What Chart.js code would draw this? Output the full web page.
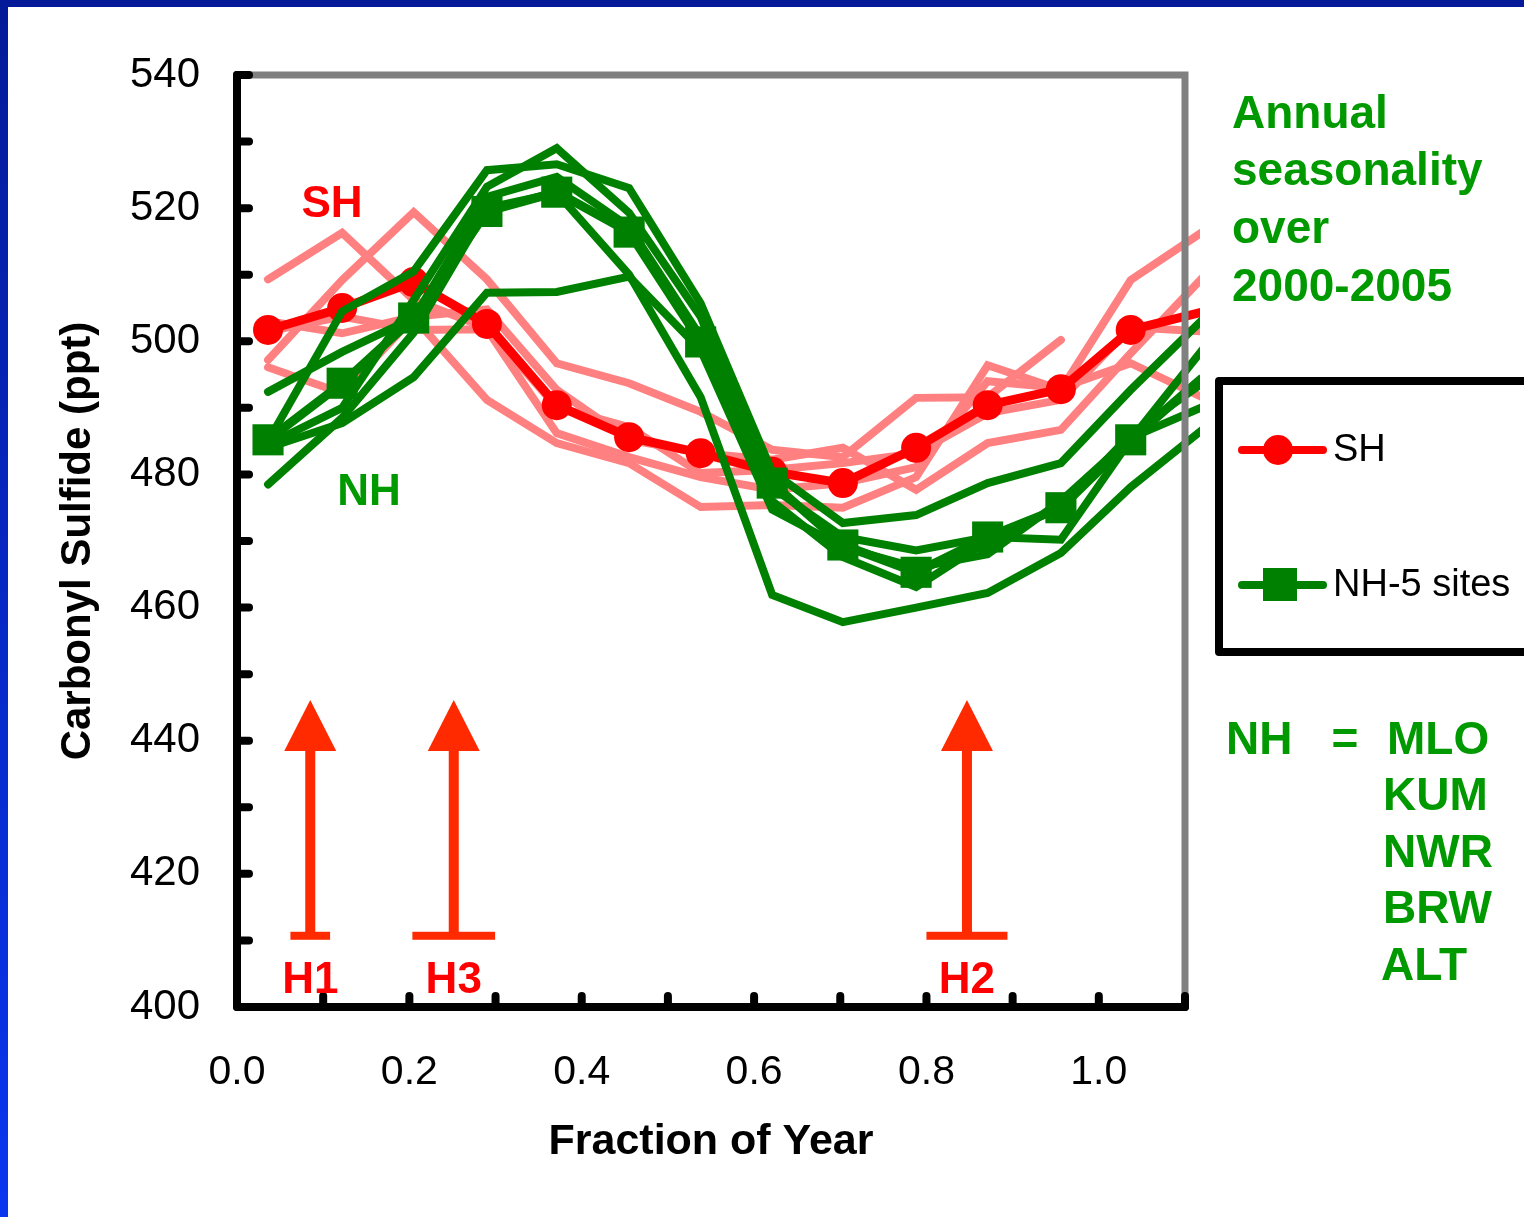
<!DOCTYPE html>
<html>
<head>
<meta charset="utf-8">
<script src="https://cdn.jsdelivr.net/npm/chart.js@4.4.1/dist/chart.umd.min.js"></script>
<style>
  html, body { margin: 0; padding: 0; background: #ffffff; }
  #wrap { position: relative; width: 1524px; height: 1217px; overflow: hidden; background: #ffffff; }
  #leftBar { position: absolute; left: 0; top: 0; width: 8px; height: 1217px; background: linear-gradient(#041a98, #0a36f0); }
  #topBar { position: absolute; left: 0; top: 0; width: 1524px; height: 7px; background: #041a98; }
  #c { position: absolute; left: 0; top: 0; }
</style>
</head>
<body>
<div id="wrap">
  <div id="leftBar"></div>
  <div id="topBar"></div>
  <canvas id="c" width="1524" height="1217"></canvas>
</div>
<script>
// ---------------- DATA ----------------
// x positions (fraction of year) of the monthly points
const xs = [0.036, 0.122, 0.205, 0.290, 0.371, 0.455, 0.538, 0.621, 0.703, 0.788, 0.871, 0.956, 1.037, 1.120];

// Southern Hemisphere mean (red, circles)
const shMean = [501.7, 505.0, 508.9, 502.6, 490.4, 485.6, 483.2, 480.4, 478.7, 484.0, 490.4, 492.8, 501.7, 504.4];
// Northern Hemisphere 5-site mean (green, squares)
const nhMean = [485.2, 493.7, 503.5, 519.5, 522.4, 516.4, 499.9, 478.7, 469.4, 465.3, 470.6, 475.0, 485.2, 494.5];

// Individual SH curves (light red)
const shLine1 = [509.3, 516.3, 506.2, 502.0, 490.1, 487.1, 480.2, 480.7, 481.7, 483.2, 489.2, 491.2, 502.1, 501.5];
const shLine2 = [497.2, 509.2, 519.4, 509.3, 496.7, 493.7, 489.4, 483.7, 482.6, 491.5, 491.6, 500.2];
const shLine3 = [503.0, 501.2, 503.7, 504.8, 492.7, 485.2, 483.2, 482.2, 484.0, 477.7, 484.7, 486.7, 498.2, 509.5];
const shLine4 = [501.5, 503.7, 501.7, 501.8, 486.2, 482.6, 479.6, 477.7, 478.7, 481.1, 494.0, 493.0, 496.7, 491.6];
const shLine5 = [496.1, 492.2, 503.6, 491.2, 484.7, 481.7, 475.1, 475.4, 475.0, 479.6, 496.4, 492.7, 509.2, 516.4];

// Individual NH site curves (green)
const nhLineA = [485.0, 504.5, 510.5, 525.7, 526.6, 523.0, 505.7, 480.4, 472.7, 473.9, 478.7, 481.7, 492.7, 503.2];
const nhLineB = [484.5, 490.0, 506.2, 523.2, 529.0, 519.3, 503.7, 478.0, 470.6, 468.6, 470.6, 470.2, 485.2, 498.7];
const nhLineC = [492.4, 498.4, 503.5, 521.7, 524.7, 517.2, 500.7, 476.0, 467.6, 463.1, 470.0, 475.1, 486.0, 493.7];
const nhLineD = [484.0, 487.7, 494.6, 507.3, 507.4, 509.7, 498.7, 474.7, 469.1, 466.0, 468.0, 476.0, 485.5, 490.1];
const nhLineE = [478.5, 488.5, 501.3, 520.0, 522.3, 510.0, 491.6, 461.9, 457.8, 460.0, 462.2, 468.2, 478.1, 486.7];

// Axis ticks
const yTickValues = [400, 410, 420, 430, 440, 450, 460, 470, 480, 490, 500, 510, 520, 530, 540];
const xTickValues = [0.1, 0.2, 0.3, 0.4, 0.5, 0.6, 0.7, 0.8, 0.9, 1.0, 1.1];

// Annotations: hemisphere arrows
const arrowNames = ['H1', 'H3', 'H2'];
const arrowX = [0.085, 0.2515, 0.847];
const arrowBarHalf = [0.023, 0.048, 0.047];
const arrowFrom = 410.7;
const arrowTo = 446.1;

const legendLabels = ['SH', 'NH-5 sites'];
const siteList = ['MLO', 'KUM', 'NWR', 'BRW', 'ALT'];
const noteLines = ['Annual', 'seasonality', 'over', '2000-2005'];

// ---------------- CHART ----------------
const FONT = "'Liberation Sans', Arial, sans-serif";
Chart.defaults.font.family = FONT;

function pts(vals) { return vals.map((v, i) => ({ x: xs[i], y: v })); }

const PINK = '#ff8080', RED = '#ff0000', GREEN = '#008000', GREEN_TXT = '#009900', ARROW = '#ff2a00';
const CLIP = { left: 40, top: 40, right: 15, bottom: 40 };
const LAST = xs.length - 1;

function thin(vals, color, order) {
  return { label: '', data: pts(vals), borderColor: color, backgroundColor: color, borderWidth: 8,
    pointRadius: 0, order: order, clip: CLIP, borderCapStyle: 'round', borderJoinStyle: 'miter', tension: 0 };
}

const datasets = [
  thin(shLine1, PINK, 4), thin(shLine2, PINK, 4), thin(shLine3, PINK, 4), thin(shLine4, PINK, 4), thin(shLine5, PINK, 4),
  { label: legendLabels[0], data: pts(shMean), borderColor: RED, backgroundColor: RED, borderWidth: 9,
    pointRadius: c => (c.dataIndex === LAST ? 0 : 15), pointStyle: 'circle', pointBackgroundColor: RED, pointBorderWidth: 0,
    order: 3, clip: CLIP, borderJoinStyle: 'miter' },
  thin(nhLineA, GREEN, 2), thin(nhLineB, GREEN, 2), thin(nhLineC, GREEN, 2), thin(nhLineD, GREEN, 2), thin(nhLineE, GREEN, 2),
  { label: legendLabels[1], data: pts(nhMean), borderColor: GREEN, backgroundColor: GREEN, borderWidth: 9,
    pointRadius: c => (c.dataIndex === LAST ? 0 : 22), pointStyle: 'rect', pointBackgroundColor: GREEN, pointBorderWidth: 0,
    order: 1, clip: CLIP, borderJoinStyle: 'miter' }
];

const decor = {
  id: 'decor',
  afterDatasetsDraw(chart) {
    const ctx = chart.ctx;
    const xS = chart.scales.x, yS = chart.scales.y;
    const L = xS.getPixelForValue(0), R = xS.getPixelForValue(1.1);
    const T = yS.getPixelForValue(540), B = yS.getPixelForValue(400);
    ctx.save();
    // gray top/right frame
    ctx.strokeStyle = '#808080'; ctx.lineWidth = 7; ctx.lineCap = 'butt';
    ctx.beginPath(); ctx.moveTo(L, T); ctx.lineTo(R, T); ctx.lineTo(R, B); ctx.stroke();
    // black axes
    ctx.strokeStyle = '#000'; ctx.lineWidth = 8; ctx.lineCap = 'round'; ctx.lineJoin = 'round';
    ctx.beginPath(); ctx.moveTo(L, T); ctx.lineTo(L, B); ctx.lineTo(R, B); ctx.stroke();
    // ticks
    yTickValues.forEach(v => {
      const y = yS.getPixelForValue(v);
      ctx.beginPath(); ctx.moveTo(L, y); ctx.lineTo(L + 12, y); ctx.stroke();
    });
    xTickValues.forEach(v => {
      const x = xS.getPixelForValue(v);
      ctx.beginPath(); ctx.moveTo(x, B); ctx.lineTo(x, B - 11); ctx.stroke();
    });
    // arrows
    const yBase = yS.getPixelForValue(arrowFrom), yTip = yS.getPixelForValue(arrowTo);
    arrowNames.forEach((name, i) => {
      const x = xS.getPixelForValue(arrowX[i]);
      const x0 = xS.getPixelForValue(arrowX[i] - arrowBarHalf[i]);
      const x1 = xS.getPixelForValue(arrowX[i] + arrowBarHalf[i]);
      ctx.fillStyle = ARROW;
      ctx.fillRect(x - 5, yTip + 45, 10, yBase - (yTip + 45));
      ctx.fillRect(x0, yBase - 4, x1 - x0, 8);
      ctx.beginPath(); ctx.moveTo(x, yTip); ctx.lineTo(x + 26, yTip + 51); ctx.lineTo(x - 26, yTip + 51); ctx.closePath(); ctx.fill();
      ctx.fillStyle = RED; ctx.font = 'bold 44px ' + FONT; ctx.textAlign = 'center'; ctx.textBaseline = 'alphabetic';
      ctx.fillText(name, x, 993);
    });
    // hemisphere labels
    ctx.font = 'bold 44px ' + FONT; ctx.textAlign = 'center'; ctx.textBaseline = 'middle';
    ctx.fillStyle = RED; ctx.fillText('SH', 332, 205);
    ctx.fillStyle = GREEN_TXT; ctx.fillText('NH', 369, 493);
    ctx.restore();
  },
  afterDraw(chart) {
    const ctx = chart.ctx;
    ctx.save();
    // note text
    ctx.fillStyle = GREEN_TXT; ctx.font = 'bold 46px ' + FONT; ctx.textAlign = 'left'; ctx.textBaseline = 'alphabetic';
    noteLines.forEach((t, i) => ctx.fillText(t, 1232, 127.5 + i * 57.7));
    // site list
    ctx.fillText('NH', 1226, 753.5);
    ctx.textAlign = 'center'; ctx.fillText('=', 1345, 753.5);
    ctx.textAlign = 'left';
    const sx = [1387, 1383, 1383, 1383, 1381];
    siteList.forEach((s, i) => ctx.fillText(s, sx[i], 753.5 + i * 56.5));
    // legend
    ctx.strokeStyle = '#000'; ctx.lineWidth = 8; ctx.lineJoin = 'round';
    ctx.strokeRect(1219, 381, 330, 271);
    const entries = [
      { ds: chart.data.datasets[5], y: 450 },
      { ds: chart.data.datasets[11], y: 585 }
    ];
    entries.forEach(e => {
      ctx.strokeStyle = e.ds.borderColor; ctx.lineWidth = 8; ctx.lineCap = 'round';
      ctx.beginPath(); ctx.moveTo(1242, e.y); ctx.lineTo(1323, e.y); ctx.stroke();
      ctx.fillStyle = e.ds.borderColor;
      if (e.ds.pointStyle === 'circle') { ctx.beginPath(); ctx.arc(1278, e.y, 15, 0, Math.PI * 2); ctx.fill(); }
      else { ctx.fillRect(1263, e.y - 17, 34, 33); }
      ctx.fillStyle = '#000'; ctx.font = '38px ' + FONT; ctx.textAlign = 'left'; ctx.textBaseline = 'middle';
      ctx.fillText(e.ds.label, 1333, e.y + 1);
    });
    ctx.restore();
  }
};

new Chart(document.getElementById('c'), {
  type: 'line',
  data: { datasets: datasets },
  options: {
    responsive: false, animation: false, devicePixelRatio: 1, events: [],
    layout: { padding: { left: 0, top: 75, right: 339, bottom: 0 } },
    plugins: { legend: { display: false }, tooltip: { enabled: false } },
    scales: {
      x: {
        type: 'linear', min: 0, max: 1.1,
        afterFit: s => { s.height = 210; },
        grid: { display: false }, border: { display: false },
        ticks: { stepSize: 0.1, color: '#000', font: { size: 41 }, padding: 33, maxRotation: 0, autoSkip: false,
          callback: v => { const k = Math.round(v * 10); return (k % 2 === 0) ? (k / 10).toFixed(1) : ''; } },
        title: { display: true, text: 'Fraction of Year', color: '#000', font: { size: 43, weight: 'bold' }, padding: { bottom: 49 } }
      },
      y: {
        min: 400, max: 540,
        afterFit: s => { s.width = 237; },
        grid: { display: false }, border: { display: false },
        ticks: { stepSize: 10, color: '#000', font: { size: 42 }, padding: 29, autoSkip: false,
          callback: v => (v % 20 === 0 ? String(v) : '') },
        title: { display: true, text: 'Carbonyl Sulfide (ppt)', color: '#000', font: { size: 42, weight: 'bold' }, padding: { top: 53 } }
      }
    }
  },
  plugins: [decor]
});
</script>
</body>
</html>
